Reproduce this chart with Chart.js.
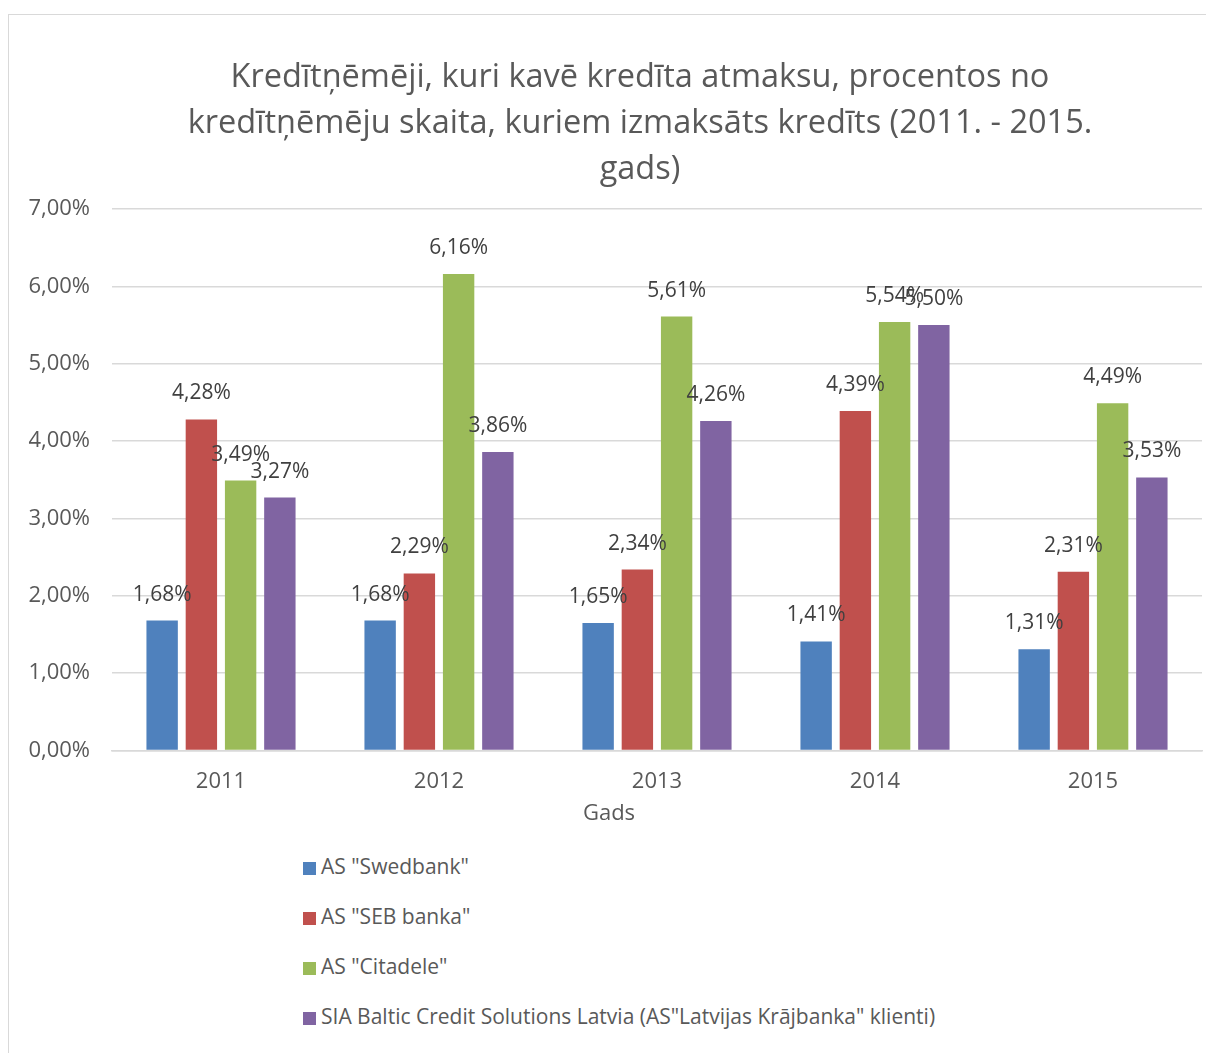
<!DOCTYPE html>
<html lang="lv">
<head>
<meta charset="UTF-8" />
<title>Kredītņēmēji, kuri kavē kredīta atmaksu</title>
<style>
  body {
    margin: 0;
    background: #fff;
    font-family: 'Open Sans', sans-serif;
  }
  .frame {
    position: absolute;
    left: 8px;
    top: 14px;
    width: 1210px;
    height: 1060px;
    border: 1px solid #d9d9d9;
  }
  .chart-title {
    position: absolute;
    left: 140px;
    top: 52px;
    width: 1000px;
    text-align: center;
    font-size: 32.5px;
    line-height: 46px;
    color: #595959;
  }
  .axis-title {
    position: absolute;
    left: 509px;
    top: 796px;
    width: 200px;
    text-align: center;
    font-size: 22px;
    line-height: 30px;
    color: #595959;
  }
  .chart-box {
    position: absolute;
    left: 0;
    top: 0;
    width: 1206px;
    height: 840px;
  }
  .legend {
    position: absolute;
    left: 303px;
    top: 851px;
    margin: 0;
    padding: 0;
    list-style: none;
  }
  .legend li {
    height: 50px;
    line-height: 30px;
    font-size: 21px;
    color: #595959;
    white-space: nowrap;
  }
  .legend .box {
    display: inline-block;
    width: 13px;
    height: 13px;
    margin-right: 5px;
    vertical-align: -1px;
  }
</style>
</head>
<body>
<div class="frame"></div>
<div class="chart-box"><canvas id="chart"></canvas></div>
<div class="chart-title" id="title"></div>
<div class="axis-title" id="xtitle"></div>
<ul class="legend" id="legend"></ul>

<script src="https://cdn.jsdelivr.net/npm/chart.js"></script>
<script>
  const years = ["2011", "2012", "2013", "2014", "2015"];
  const seriesNames = [
    'AS "Swedbank"',
    'AS "SEB banka"',
    'AS "Citadele"',
    'SIA Baltic Credit Solutions Latvia (AS"Latvijas Krājbanka" klienti)'
  ];
  const swedbank = [1.68, 1.68, 1.65, 1.41, 1.31];
  const seb = [4.28, 2.29, 2.34, 4.39, 2.31];
  const citadele = [3.49, 6.16, 5.61, 5.54, 4.49];
  const baltic = [3.27, 3.86, 4.26, 5.50, 3.53];
  const colors = ["#4f81bd", "#c0504d", "#9bbb59", "#8064a2"];

  const titleLines = [
    "Kredītņēmēji, kuri kavē kredīta atmaksu, procentos no",
    "kredītņēmēju skaita, kuriem izmaksāts kredīts (2011. - 2015.",
    "gads)"
  ];
  const xTitle = "Gads";

  const fmt = (v) => v.toFixed(2).replace(".", ",") + "%";
  const FONT = "'Open Sans', sans-serif";

  // values over the bars, like Excel data labels
  const barLabels = {
    id: "barLabels",
    afterDatasetsDraw(chart) {
      const ctx = chart.ctx;
      ctx.save();
      ctx.font = "21px " + FONT;
      ctx.fillStyle = "#404040";
      ctx.textAlign = "center";
      ctx.textBaseline = "middle";
      chart.data.datasets.forEach((ds, i) => {
        chart.getDatasetMeta(i).data.forEach((bar, j) => {
          ctx.fillText(fmt(ds.data[j]), bar.x, bar.y - 26);
        });
      });
      ctx.restore();
    }
  };

  const datasets = [swedbank, seb, citadele, baltic].map((vals, i) => ({
    label: seriesNames[i],
    data: vals,
    backgroundColor: colors[i],
    borderWidth: 0,
    categoryPercentage: 0.72,
    barPercentage: 0.8
  }));

  const chart = new Chart(document.getElementById("chart"), {
    type: "bar",
    data: { labels: years, datasets: datasets },
    plugins: [barLabels],
    options: {
      responsive: true,
      maintainAspectRatio: false,
      animation: false,
      layout: { padding: { left: 26, right: 4, top: 209, bottom: 27 } },
      plugins: {
        legend: { display: false },
        tooltip: { enabled: false },
        title: { display: false }
      },
      scales: {
        y: {
          min: 0,
          max: 7,
          afterFit: (scale) => { scale.width = 86; },
          ticks: {
            stepSize: 1,
            callback: (v) => fmt(v),
            color: "#595959",
            font: { family: FONT, size: 22 },
            padding: 22
          },
          grid: { color: "#d9d9d9", lineWidth: 1.5, drawTicks: false },
          border: { display: false }
        },
        x: {
          ticks: {
            color: "#595959",
            font: { family: FONT, size: 22 },
            padding: 18
          },
          grid: { display: false, drawTicks: false },
          border: { color: "#d9d9d9", width: 1.5 }
        }
      }
    }
  });

  document.getElementById("title").innerHTML = titleLines.join("<br>");
  document.getElementById("xtitle").textContent = xTitle;

  // vertical legend under the chart, built from the datasets
  const legend = document.getElementById("legend");
  chart.data.datasets.forEach((ds) => {
    const li = document.createElement("li");
    const box = document.createElement("span");
    box.className = "box";
    box.style.background = ds.backgroundColor;
    li.appendChild(box);
    li.appendChild(document.createTextNode(ds.label));
    legend.appendChild(li);
  });
</script>
</body>
</html>
